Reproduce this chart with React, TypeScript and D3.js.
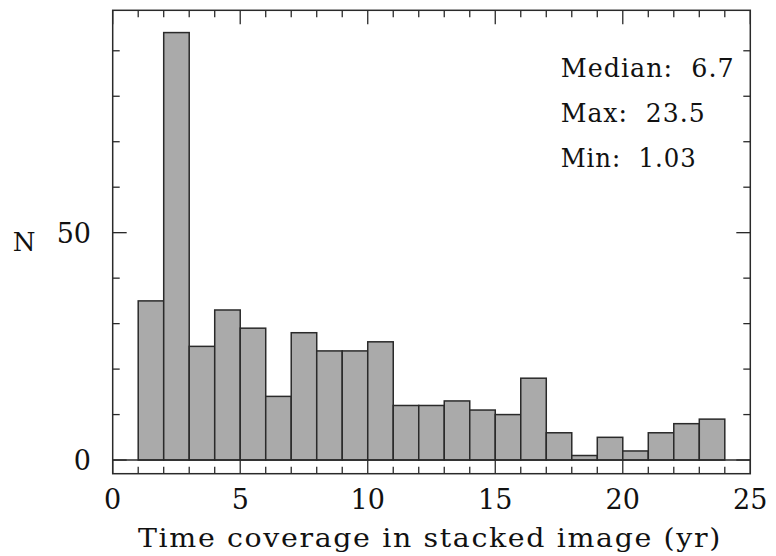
import React from "react";
import * as d3 from "d3";

const binStarts = [1,2,3,4,5,6,7,8,9,10,11,12,13,14,15,16,17,18,19,20,21,22,23];
const counts = [35,94,25,33,29,14,28,24,24,26,12,12,13,11,10,18,6,1,5,2,6,8,9];
const xTickLabels = [0,5,10,15,20,25];
const yTickLabels = [0,50];
const statLines = ["Median:  6.7", "Max:  23.5", "Min:  1.03"];
const statWidths = [174, 145, 136];

const W = 776, H = 556;
const L = 112.7, R = 750.3, T = 10.3, B = 473.7;

export default function App() {
  const x = d3.scaleLinear().domain([0, 25]).range([L, R]);
  const y = d3.scaleLinear().domain([-3, 98.9]).range([B, T]);
  const font = "'DejaVu Serif', serif";
  const stroke = "#2a2a2a";
  const minorX = d3.range(0, 26, 1);
  const minorY = d3.range(0, 100, 10);
  return (
    <svg width={W} height={H} style={{ position: "absolute", left: 0, top: 0 }}>
      <rect x={0} y={0} width={W} height={H} fill="#fff" />
      {binStarts.map((s, i) => (
        <rect key={i} x={x(s)} y={y(counts[i])} width={x(s + 1) - x(s)} height={y(0) - y(counts[i])}
          fill="#aaaaaa" stroke={stroke} strokeWidth={1.5} />
      ))}
      <line x1={L} x2={R} y1={y(0)} y2={y(0)} stroke={stroke} strokeWidth={1.5} />
      {minorX.map((v) => {
        const len = v % 5 === 0 ? 14 : 7;
        return (
          <g key={"xt" + v}>
            <line x1={x(v)} x2={x(v)} y1={B} y2={B - len} stroke={stroke} strokeWidth={1.3} />
            <line x1={x(v)} x2={x(v)} y1={T} y2={T + len} stroke={stroke} strokeWidth={1.3} />
          </g>
        );
      })}
      {minorY.map((v) => {
        const len = v % 50 === 0 ? 14 : 7;
        return (
          <g key={"yt" + v}>
            <line x1={L} x2={L + len} y1={y(v)} y2={y(v)} stroke={stroke} strokeWidth={1.3} />
            <line x1={R} x2={R - len} y1={y(v)} y2={y(v)} stroke={stroke} strokeWidth={1.3} />
          </g>
        );
      })}
      <rect x={L} y={T} width={R - L} height={B - T} fill="none" stroke={stroke} strokeWidth={1.5} />
      {xTickLabels.map((v) => (
        <text key={"xl" + v} x={x(v)} y={509} textAnchor="middle" fontFamily={font} fontSize={27} fill="#111">{v}</text>
      ))}
      {yTickLabels.map((v) => (
        <text key={"yl" + v} x={91} y={y(v) + 10} textAnchor="end" fontFamily={font} fontSize={27} fill="#111">{v}</text>
      ))}
      <text x={24} y={251} textAnchor="middle" fontFamily={font} fontSize={26} fill="#111">N</text>
      <text x={138} y={547} textLength={584} lengthAdjust="spacingAndGlyphs" letterSpacing={1.5}
        fontFamily={font} fontSize={26} fill="#111" style={{ whiteSpace: "pre" }}>
        Time coverage in stacked image (yr)
      </text>
      {statLines.map((s, i) => (
        <text key={s} x={560.7} y={76.7 + i * 45} textLength={statWidths[i]} lengthAdjust="spacingAndGlyphs" letterSpacing={1}
          fontFamily={font} fontSize={25.5} fill="#111" style={{ whiteSpace: "pre" }}>{s}</text>
      ))}
    </svg>
  );
}
